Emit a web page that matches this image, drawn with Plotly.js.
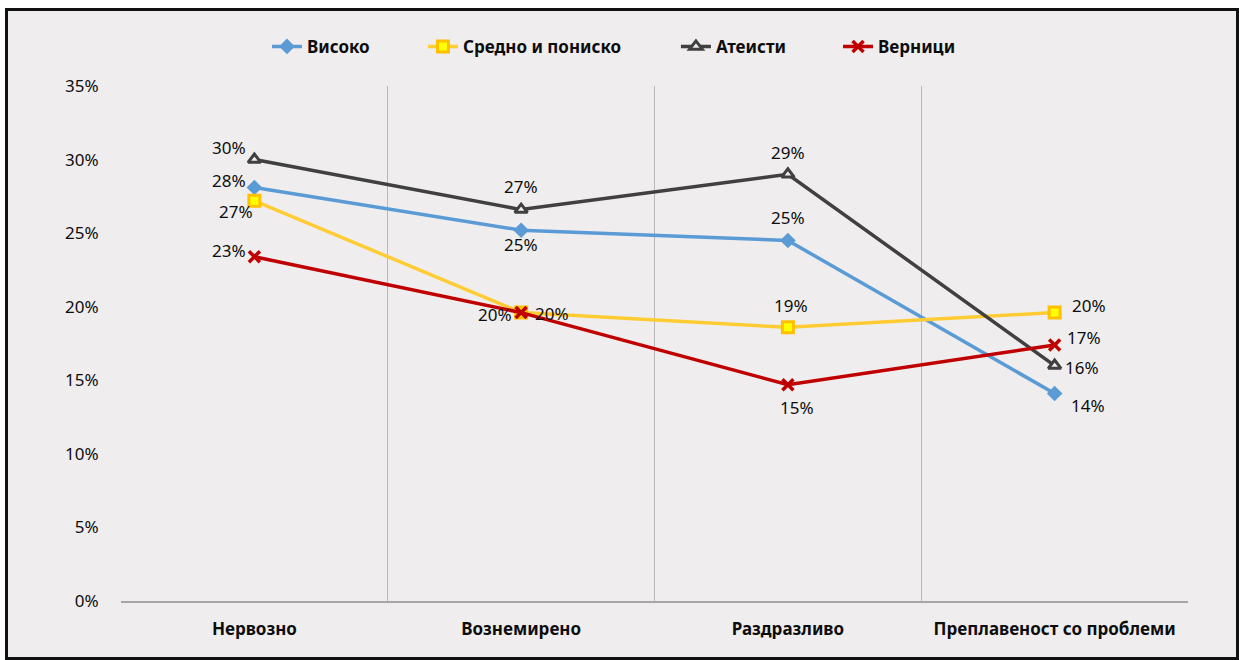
<!DOCTYPE html>
<html><head><meta charset="utf-8">
<script src="https://cdn.plot.ly/plotly-3.0.1.min.js"></script>
<style>
html,body{margin:0;padding:0;background:#ffffff;}
#wrap{position:absolute;left:5px;top:8px;border:3px solid #111;width:1228px;height:646px;background:#efedee;}
#chart{width:1228px;height:646px;}
</style></head>
<body><div id="wrap"><div id="chart"></div></div>
<script>
const categories = ["Нервозно", "Вознемирено", "Раздразливо", "Преплавеност со проблеми"];
const seriesNames = ["Високо", "Средно и пониско", "Атеисти", "Верници"];
const visoko   = [28.1, 25.2, 24.5, 14.1];
const sredno   = [27.2, 19.6, 18.6, 19.6];
const ateisti  = [30.0, 26.6, 29.0, 16.0];
const vernici  = [23.4, 19.6, 14.7, 17.4];
const yTickVals = [0, 5, 10, 15, 20, 25, 30, 35];
const yTickText = ["0%", "5%", "10%", "15%", "20%", "25%", "30%", "35%"];

// label offsets in pixels [dx, dy(down)] per series / point (styling only)
const labelOffsets = [
  [[-25, -7], [0, 14], [0, -23], [33, 12]],
  [[-18, 11], [31, 1], [3, -22], [34, -7]],
  [[-25, -12], [0, -23], [0, -22], [27, 2]],
  [[-25, -6], [-26, 2], [9, 23], [29, -7]]
];

const xs = categories.map((c, i) => i);
const FONT = "Noto Sans, Open Sans, sans-serif";
const seriesData = [visoko, sredno, ateisti, vernici];

const traces = [
  {name: seriesNames[0], x: xs, y: visoko, mode: "lines+markers",
   line: {color: "#5b9bd5", width: 3.5}, marker: {symbol: "diamond", size: 12, color: "#5b9bd5"}},
  {name: seriesNames[1], x: xs, y: sredno, mode: "lines+markers",
   line: {color: "#ffcc33", width: 3.5}, marker: {symbol: "square", size: 11, color: "#ffff00", line: {color: "#ffc000", width: 3}}},
  {name: seriesNames[2], x: xs, y: ateisti, mode: "lines+markers",
   line: {color: "#404040", width: 3.5}, marker: {symbol: "triangle-up", size: 11, color: "#efedee", line: {color: "#404040", width: 3}}},
  {name: seriesNames[3], x: xs, y: vernici, mode: "lines+markers",
   line: {color: "#c00000", width: 3.5}, marker: {symbol: "x-thin", size: 11, color: "#c00000", line: {color: "#c00000", width: 3.5}}}
];
const legendX = [0.1368, 0.2830, 0.5201, 0.6720];
traces.forEach((t, i) => { t.legend = i === 0 ? "legend" : "legend" + (i + 1); });
traces.push({x: [-0.5, 3.5], y: [0, 0], xaxis: "x2", mode: "markers", marker: {opacity: 0}, showlegend: false, hoverinfo: "skip"});

const annotations = [];
seriesData.forEach((arr, s) => arr.forEach((v, i) => {
  annotations.push({x: xs[i], y: v, xref: "x", yref: "y", text: Math.round(v) + "%", showarrow: false,
    xshift: labelOffsets[s][i][0], yshift: -labelOffsets[s][i][1],
    font: {family: FONT, size: 17, color: "#0d0d0d"}});
}));

const legendBase = {orientation: "h", xanchor: "left", y: 1.076, yanchor: "middle",
  font: {size: 17, family: FONT, weight: "bold", color: "#0d0d0d"}, bgcolor: "rgba(0,0,0,0)", itemwidth: 30};

const layout = {
  width: 1228, height: 646,
  paper_bgcolor: "#efedee", plot_bgcolor: "#efedee",
  margin: {l: 113, r: 48, t: 75, b: 56},
  font: {family: FONT, color: "#0d0d0d"},
  showlegend: true,
  legend: Object.assign({}, legendBase, {x: legendX[0]}),
  legend2: Object.assign({}, legendBase, {x: legendX[1]}),
  legend3: Object.assign({}, legendBase, {x: legendX[2]}),
  legend4: Object.assign({}, legendBase, {x: legendX[3]}),
  annotations: annotations,
  xaxis: {range: [-0.5, 3.5], tickvals: xs, ticktext: categories, showgrid: false, zeroline: false,
          showline: true, linecolor: "#a6a6a6", linewidth: 1.5, ticks: "outside", ticklen: 12, tickcolor: "rgba(0,0,0,0)",
          tickfont: {size: 17, weight: "bold", color: "#0d0d0d"}, fixedrange: true},
  xaxis2: {range: [-0.5, 3.5], overlaying: "x", tickvals: [-0.5, 0.5, 1.5, 2.5, 3.5], showticklabels: false,
           showgrid: true, gridcolor: "#b8b8b8", gridwidth: 1, zeroline: false, showline: false, ticks: ""},
  yaxis: {range: [0, 35], tickvals: yTickVals, ticktext: yTickText, showgrid: false, zeroline: false, showline: false,
          ticks: "outside", ticklen: 18, tickcolor: "rgba(0,0,0,0)", tickfont: {size: 17, color: "#0d0d0d"}, fixedrange: true}
};
Plotly.newPlot("chart", traces, layout, {displayModeBar: false, staticPlot: true});
</script></body></html>
